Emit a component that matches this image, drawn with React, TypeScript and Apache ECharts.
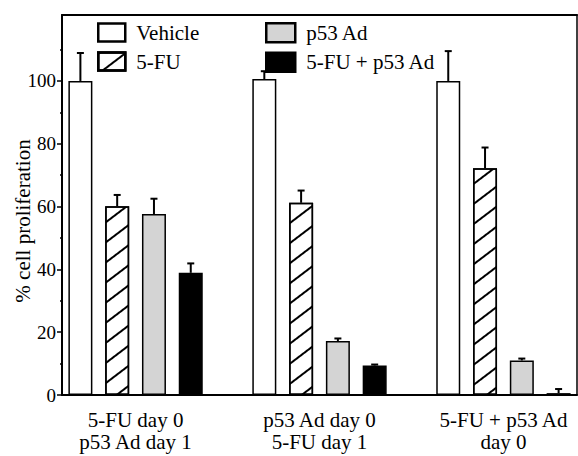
import React, { useEffect, useRef } from "react";
import * as echarts from "echarts";

const groupLabels = ["5-FU day 0\np53 Ad day 1", "p53 Ad day 0\n5-FU day 1", "5-FU + p53 Ad\nday 0"];
const treatments = ["Vehicle", "5-FU", "p53 Ad", "5-FU + p53 Ad"];
const vehicleValues = [100, 100.6, 100];
const vehicleErrors = [8.9, 2.5, 9.5];
const fuValues = [60.1, 61.2, 72.2];
const fuErrors = [3.6, 3.9, 6.6];
const p53Values = [57.6, 17.2, 11.0];
const p53Errors = [4.9, 0.8, 0.6];
const comboValues = [38.9, 9.4, 0.6];
const comboErrors = [3.0, 0.3, 1.3];
const yTickValues = [0, 20, 40, 60, 80, 100];
const yMinorTickValues = [10, 30, 50, 70, 90, 110];

const SLOTS_PER_GROUP = 5; // 4 bars + 1 gap
const NUM_SLOTS = 14;
const FONT = '"Liberation Serif", "Times New Roman", serif';

const slotNames = Array.from({ length: NUM_SLOTS }, (_, i) => "s" + i);
const groupCenters = groupLabels.map((_, g) => g * SLOTS_PER_GROUP + 1.5);

function slotData(values: number[], t: number) {
  const arr: (number | string)[] = Array(NUM_SLOTS).fill("-");
  values.forEach((v, g) => {
    arr[g * SLOTS_PER_GROUP + t] = v;
  });
  return arr;
}

const allValues = [vehicleValues, fuValues, p53Values, comboValues];
const allErrors = [vehicleErrors, fuErrors, p53Errors, comboErrors];

export default function App() {
  const ref = useRef<HTMLDivElement>(null);
  useEffect(() => {
    if (!ref.current) return;
    const chart = echarts.init(ref.current, null, { renderer: "svg" });
    const styles = [
      { color: "#ffffff", borderColor: "#000", borderWidth: 1.5 },
      {
        color: "#ffffff",
        borderColor: "#000",
        borderWidth: 1.5,
        decal: {
          symbol: "rect",
          symbolSize: 1,
          dashArrayX: [1, 0],
          dashArrayY: [1.5, 13.5],
          rotation: -0.65,
          color: "#000",
        },
      },
      { color: "#d4d4d4", borderColor: "#000", borderWidth: 1.5 },
      { color: "#000000", borderColor: "#000", borderWidth: 1.5 },
    ];
    const barSeries = treatments.map((name, t) => ({
      name,
      type: "bar",
      xAxisIndex: 0,
      yAxisIndex: 0,
      barWidth: 24,
      barGap: "-100%",
      data: slotData(allValues[t], t),
      itemStyle: styles[t],
      z: 2,
    }));
    const errData: number[][] = [];
    treatments.forEach((_, t) => {
      allValues[t].forEach((v, g) => {
        errData.push([g * SLOTS_PER_GROUP + t, v, allErrors[t][g]]);
      });
    });
    const legendText = { fontFamily: FONT, fontSize: 21, color: "#000" };
    const option: any = {
      animation: false,
      backgroundColor: "#ffffff",
      textStyle: { fontFamily: FONT, color: "#000" },
      grid: { left: 62, right: 1, top: 15, bottom: 61, outerBoundsMode: "none" },
      legend: [
        {
          data: ["Vehicle", "5-FU"],
          orient: "vertical",
          left: 97,
          top: 22,
          padding: 0,
          icon: "rect",
          itemWidth: 27,
          itemHeight: 18,
          itemGap: 8,
          itemStyle: { borderWidth: 2.5 },
          textStyle: { ...legendText, padding: [0, 0, 0, 6] },
        },
        {
          data: ["p53 Ad", "5-FU + p53 Ad"],
          orient: "vertical",
          left: 265,
          top: 22,
          padding: 0,
          icon: "rect",
          itemWidth: 29,
          itemHeight: 19,
          itemGap: 8,
          itemStyle: { borderWidth: 2.5 },
          textStyle: { ...legendText, padding: [0, 0, 0, 6] },
        },
      ],
      xAxis: [
        {
          type: "category",
          data: slotNames,
          position: "bottom",
          axisLine: { onZero: false, lineStyle: { color: "#000", width: 2 } },
          axisTick: { alignWithLabel: true, length: 4, lineStyle: { color: "#000", width: 1.5 } },
          axisLabel: { show: false },
          splitLine: { show: false },
        },
        {
          type: "category",
          data: slotNames,
          position: "top",
          axisLine: { onZero: false, lineStyle: { color: "#000", width: 2 } },
          axisTick: { alignWithLabel: true, length: 3, lineStyle: { color: "#000", width: 1.5 } },
          axisLabel: { show: false },
          splitLine: { show: false },
        },
        {
          type: "value",
          min: -0.5,
          max: NUM_SLOTS - 0.5,
          position: "bottom",
          axisLine: { show: false, onZero: false },
          axisTick: { show: false },
          splitLine: { show: false },
          axisLabel: {
            customValues: groupCenters,
            formatter: (v: number) => groupLabels[Math.round((v - 1.5) / SLOTS_PER_GROUP)] ?? "",
            fontFamily: FONT,
            fontSize: 21,
            lineHeight: 22,
            color: "#000",
            margin: 14,
          },
        },
      ],
      yAxis: [
        {
          type: "value",
          min: 0,
          max: 121,
          interval: 20,
          position: "left",
          name: "% cell proliferation",
          nameLocation: "middle",
          nameGap: 29,
          nameMoveOverlap: false,
          nameTextStyle: { fontFamily: FONT, fontSize: 21, color: "#000", padding: [0, 32, 0, 0] },
          axisLine: { show: true, onZero: false, lineStyle: { color: "#000", width: 2 } },
          axisTick: { show: true, customValues: yTickValues, length: 5, lineStyle: { color: "#000", width: 1.5 } },
          axisLabel: { customValues: yTickValues, fontFamily: FONT, fontSize: 19, color: "#000", margin: 6 },
          splitLine: { show: false },
        },
        {
          type: "value",
          min: 0,
          max: 121,
          position: "left",
          axisLine: { show: false, onZero: false },
          axisTick: { show: true, customValues: yMinorTickValues, length: 2, lineStyle: { color: "#000", width: 1.5 } },
          axisLabel: { show: false },
          splitLine: { show: false },
        },
        {
          type: "value",
          min: 0,
          max: 121,
          position: "right",
          axisLine: { show: true, onZero: false, lineStyle: { color: "#000", width: 1.5 } },
          axisTick: { show: false },
          axisLabel: { show: false },
          splitLine: { show: false },
        },
      ],
      series: [
        ...barSeries,
        {
          type: "custom",
          name: "errors",
          xAxisIndex: 0,
          yAxisIndex: 0,
          z: 3,
          encode: { x: 0, y: 1 },
          data: errData,
          renderItem: (params: any, api: any) => {
            const x = api.value(0);
            const v = api.value(1);
            const e = api.value(2);
            const p0 = api.coord([x, v]);
            const p1 = api.coord([x, v + e]);
            return {
              type: "group",
              children: [
                {
                  type: "line",
                  shape: { x1: p0[0], y1: p0[1], x2: p1[0], y2: p1[1] },
                  style: { stroke: "#000", lineWidth: 2 },
                },
                {
                  type: "line",
                  shape: { x1: p1[0] - 3.5, y1: p1[1], x2: p1[0] + 3.5, y2: p1[1] },
                  style: { stroke: "#000", lineWidth: 2 },
                },
              ],
            };
          },
        },
      ],
    };
    chart.setOption(option);
    return () => chart.dispose();
  }, []);
  return (
    <div
      ref={ref}
      style={{ position: "absolute", left: 0, top: 0, width: 578, height: 456, background: "#fff" }}
    />
  );
}
